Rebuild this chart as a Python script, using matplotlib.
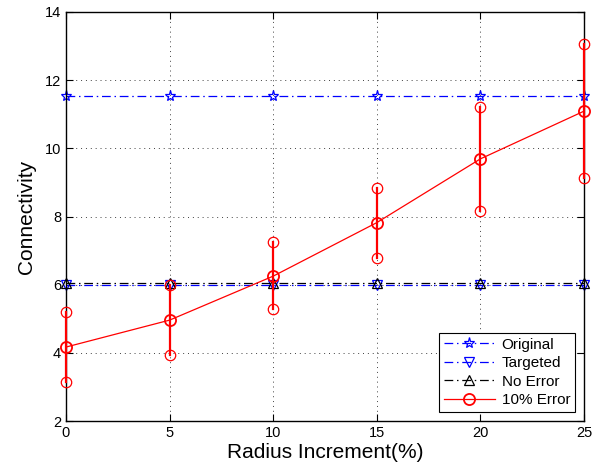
import matplotlib
matplotlib.use("Agg")
import matplotlib.pyplot as plt
import numpy as np

plt.rcParams['font.family'] = ['Liberation Sans', 'DejaVu Sans']

radius = [0, 5, 10, 15, 20, 25]
original = [11.55, 11.55, 11.55, 11.55, 11.55, 11.55]
targeted = [6.0, 6.0, 6.0, 6.0, 6.0, 6.0]
no_error = [6.05, 6.05, 6.05, 6.05, 6.05, 6.05]
err_mean = [4.17, 4.96, 6.25, 7.82, 9.69, 11.09]
err_low = [3.15, 3.95, 5.28, 6.77, 8.16, 9.12]
err_high = [5.21, 6.0, 7.24, 8.84, 11.22, 13.05]

dashdot = (0, (7, 3, 1.2, 3))

fig = plt.figure(figsize=(6.02, 4.72), dpi=100)
ax = fig.add_axes([0.1096, 0.108, 0.8604, 0.8666])

ax.plot(radius, original, color='blue', ls=dashdot, lw=0.9, marker='*', ms=8,
        mfc='none', mec='blue', mew=0.9, label='Original', clip_on=False)
ax.plot(radius, targeted, color='blue', ls=dashdot, lw=0.9, marker='v', ms=7,
        mfc='none', mec='blue', mew=0.9, label='Targeted', clip_on=False)
ax.plot(radius, no_error, color='black', ls=dashdot, lw=0.9, marker='^', ms=7,
        mfc='none', mec='black', mew=0.9, label='No Error', clip_on=False)

# error bars with circles at both ends
for x, lo, hi in zip(radius, err_low, err_high):
    ax.plot([x, x], [lo, hi], color='red', lw=1.6, marker='o', ms=7.5,
            mfc='none', mec='red', mew=0.9, clip_on=False, zorder=3)
ax.plot(radius, err_mean, color='red', ls='-', lw=0.9, marker='o', ms=8,
        mfc='none', mec='red', mew=1.3, label='10% Error', clip_on=False, zorder=4)

ax.set_xlim(0, 25)
ax.set_ylim(2, 14)
ax.set_xticks([0, 5, 10, 15, 20, 25])
ax.set_yticks([2, 4, 6, 8, 10, 12, 14])
ax.tick_params(direction='in', top=True, right=True, labelsize=10.5, length=5, width=0.8)
ax.grid(True, ls=(0, (1, 4)), color='black', lw=0.7, alpha=0.75)
for s in ax.spines.values():
    s.set_linewidth(1.0)

ax.set_xlabel('Radius Increment(%)', fontsize=15, labelpad=2)
ax.set_ylabel('Connectivity', fontsize=15, labelpad=6)

leg = ax.legend(loc='lower right', fontsize=11, frameon=True, fancybox=False,
                edgecolor='black', framealpha=1, handlelength=3.4, borderpad=0.3,
                labelspacing=0.3, handletextpad=0.4, borderaxespad=0.6)
leg.get_frame().set_linewidth(0.8)

fig.savefig('out.png', dpi=100)
